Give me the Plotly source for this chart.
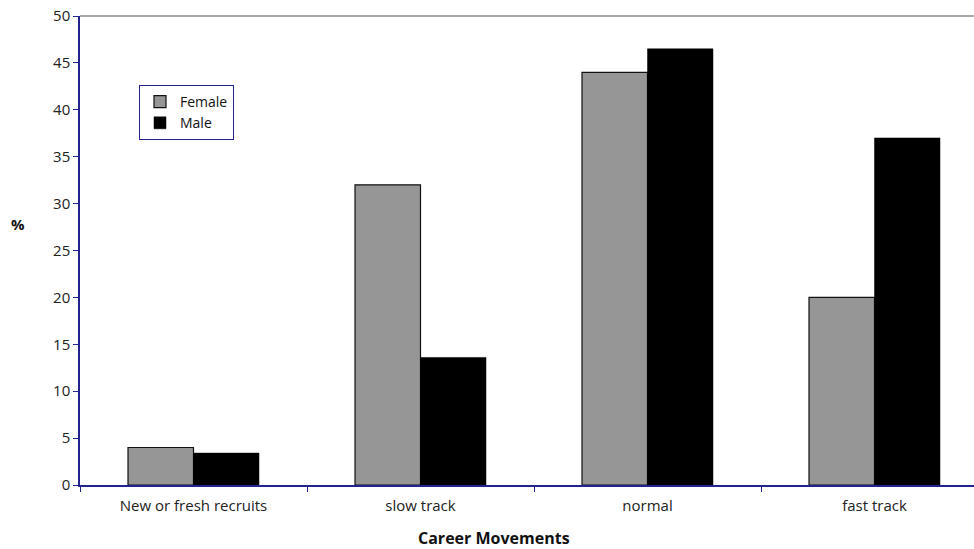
import plotly.graph_objects as go

categories = ["New or fresh recruits", "slow track", "normal", "fast track"]
female = [4, 32, 44, 20]
male = [3.4, 13.6, 46.5, 37]
y_ticks = [0, 5, 10, 15, 20, 25, 30, 35, 40, 45, 50]

W, H = 974, 549
L, R, T, B = 80, 0, 16, 549 - 485
NAVY = "#23238e"
FONT = "Open Sans"

fig = go.Figure()
fig.add_trace(go.Bar(name="Female", x=categories, y=female,
                     marker=dict(color="#969696", line=dict(color="#111111", width=1.2))))
fig.add_trace(go.Bar(name="Male", x=categories, y=male,
                     marker=dict(color="#000000", line=dict(color="#000000", width=0.5))))

pw = W - L - R
ph = H - T - B
unit = 227.0
xmax = -0.5 + pw / unit

def px(xp):
    return (xp - 80) / pw

def py(yp):
    return (485 - yp) / ph

fig.update_layout(
    width=W, height=H,
    margin=dict(l=L, r=R, t=T, b=B, pad=0, autoexpand=False),
    paper_bgcolor="white", plot_bgcolor="white",
    barmode="group", bargap=0.423, bargroupgap=0,
    font=dict(family=FONT, size=15, color="#222222"),
    showlegend=True,
    legend=dict(x=px(139), y=py(85), xanchor="left", yanchor="top",
                bordercolor=NAVY, borderwidth=1, bgcolor="white",
                font=dict(family=FONT, size=14, color="#111111"),
                itemwidth=30, tracegroupgap=0, traceorder="normal"),
    xaxis=dict(range=[-0.5, xmax], showline=True, linecolor=NAVY, linewidth=1.5,
               ticks="outside", tickson="boundaries", ticklen=5, tickcolor=NAVY,
               ticklabelstandoff=6, automargin=False,
               showgrid=False, zeroline=False, fixedrange=True,
               tickfont=dict(family=FONT, size=15, color="#222222")),
    yaxis=dict(range=[0, 50], tickvals=y_ticks, showline=True, linecolor=NAVY, linewidth=1.5,
               ticks="outside", ticklen=5, tickcolor=NAVY, showgrid=False, zeroline=False,
               ticklabeloverflow="allow", automargin=False,
               tickfont=dict(family=FONT, size=15, color="#222222")),
    shapes=[dict(type="line", xref="paper", yref="paper", x0=0, x1=1, y0=1, y1=1,
                 line=dict(color="#8a8a8a", width=1.5))],
    annotations=[
        dict(text="<b>%</b>", xref="paper", yref="paper",
             x=px(18), y=py(224), xanchor="center", yanchor="middle", showarrow=False,
             font=dict(family=FONT, size=15, color="#111111")),
        dict(text="<b>Career Movements</b>", xref="paper", yref="paper",
             x=px(494), y=py(538), xanchor="center", yanchor="middle", showarrow=False,
             font=dict(family=FONT, size=16, color="#111111")),
    ],
)

fig.write_html("out.html",
               config={"displayModeBar": False},
               post_script="document.body.style.margin='0';document.body.style.overflow='hidden';")
